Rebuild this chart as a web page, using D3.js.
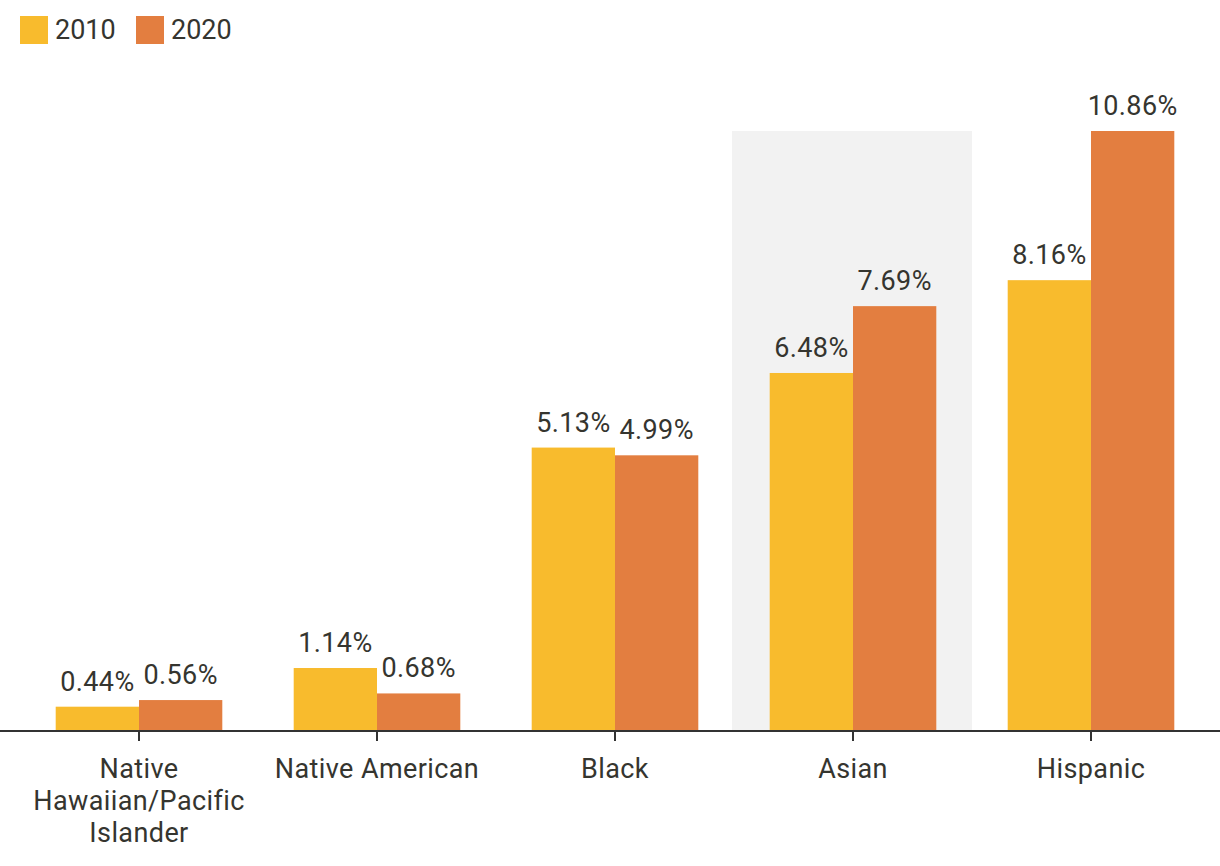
<!DOCTYPE html>
<html><head><meta charset="utf-8">
<script src="https://cdn.jsdelivr.net/npm/d3@7"></script>
<style>
html,body{margin:0;padding:0;background:#fff;}
svg text{font-family:Roboto, "Noto Sans", sans-serif;fill:#35352f;}
</style></head>
<body><svg id="chart" width="1220" height="866"></svg>
<script>
const categories = ["Native Hawaiian/Pacific Islander","Native American","Black","Asian","Hispanic"];
const seriesNames = ["2010","2020"];
const values2010 = [0.44, 1.14, 5.13, 6.48, 8.16];
const values2020 = [0.56, 0.68, 4.99, 7.69, 10.86];
const highlighted = ["Asian"];
const colors = ["#f8bb2d", "#e37e40"];

const svg = d3.select("#chart");
const baseY = 731;
const x0 = d3.scaleBand().domain(categories).range([20, 1210]).paddingInner(0.3).paddingOuter(0.15);
const x1 = d3.scaleBand().domain(seriesNames).range([0, x0.bandwidth()]).padding(0);
const maxV = d3.max(values2020.concat(values2010));
const y = d3.scaleLinear().domain([0, maxV]).range([baseY, 131]);
const color = d3.scaleOrdinal().domain(seriesNames).range(colors);

const data = categories.map((c,i)=>({cat:c, vals:[{s:"2010",v:values2010[i]},{s:"2020",v:values2020[i]}]}));

// highlight
const step = x0.step();
svg.selectAll("rect.hl").data(highlighted).enter().append("rect")
  .attr("class","hl")
  .attr("x", d => x0(d) + x0.bandwidth()/2 - step/2 - 2)
  .attr("width", step + 2)
  .attr("y", y(maxV))
  .attr("height", baseY - y(maxV))
  .attr("fill", "#f2f2f2");

const g = svg.selectAll("g.grp").data(data).enter().append("g")
  .attr("transform", d => `translate(${x0(d.cat)},0)`);
g.selectAll("rect").data(d=>d.vals).enter().append("rect")
  .attr("x", d => x1(d.s))
  .attr("width", x1.bandwidth())
  .attr("y", d => y(d.v))
  .attr("height", d => baseY - y(d.v))
  .attr("fill", d => color(d.s));
g.selectAll("text").data(d=>d.vals).enter().append("text")
  .attr("x", d => x1(d.s) + x1.bandwidth()/2)
  .attr("y", d => y(d.v) - 16)
  .attr("text-anchor","middle")
  .style("font-size","27px")
  .style("letter-spacing","0.4px")
  .text(d => d.v.toFixed(2) + "%");

// axis
const axis = svg.append("g").attr("transform",`translate(0,${baseY})`)
  .call(d3.axisBottom(x0).tickSize(10).tickSizeOuter(0));
axis.select(".domain").attr("stroke","#333").attr("stroke-width",2).attr("d","M0,0H1220");
axis.selectAll(".tick line").attr("stroke","#333").attr("stroke-width",2);
axis.selectAll(".tick text").style("font-size","27px").style("letter-spacing","0.4px").attr("fill","#35352f").attr("y",0).attr("dy",null)
  .each(function(d){
    const t = d3.select(this);
    t.text(null);
    const words = d.split(" ");
    const lines = [];
    let cur = [];
    const maxW = 225;
    const tmp = t.append("tspan");
    words.forEach(w=>{
      const test = cur.concat([w]).join(" ");
      tmp.text(test);
      if (cur.length && tmp.node().getComputedTextLength() > maxW) { lines.push(cur.join(" ")); cur=[w]; }
      else cur.push(w);
    });
    lines.push(cur.join(" "));
    tmp.remove();
    lines.forEach((l,i)=>{
      t.append("tspan").attr("x",0).attr("y",47 + i*32).text(l);
    });
  });

// legend
const leg = svg.append("g");
const legX = [20, 136];
seriesNames.forEach((s,i)=>{
  leg.append("rect").attr("x",legX[i]).attr("y",16).attr("width",28).attr("height",28).attr("fill",color(s));
  leg.append("text").attr("x",legX[i]+35).attr("y",39).style("font-size","27px").text(s);
});
</script></body></html>
